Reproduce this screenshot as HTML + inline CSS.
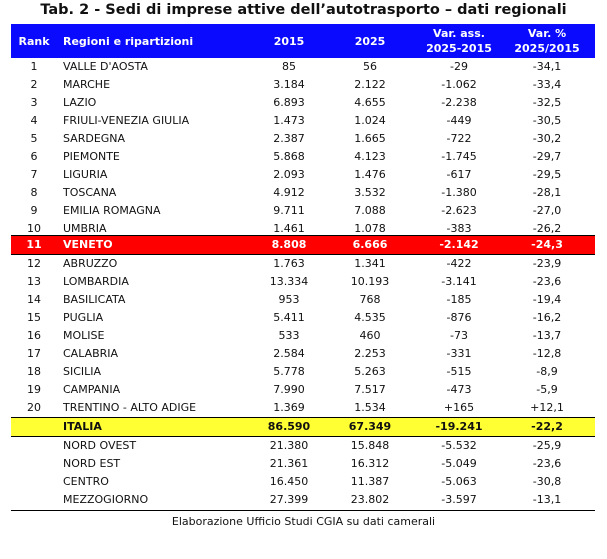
<!DOCTYPE html>
<html><head><meta charset="utf-8"><style>
body{margin:0;background:#fff;width:607px;height:559px;position:relative;font-family:"DejaVu Sans","Liberation Sans",sans-serif;font-size:11px;color:#111;overflow:hidden}
.t{position:absolute;left:0;width:607px;text-align:center;top:0;font-weight:bold;font-size:14.5px;line-height:20px}
.hd{position:absolute;left:11px;width:584px;top:24px;height:34px;background:#0a0aff;color:#fff;font-weight:bold}
.r{position:absolute;left:11px;width:584px;height:18px;line-height:18px}
.c{position:absolute;text-align:center;white-space:nowrap}
.a{left:0;width:46px}.b{left:52px;text-align:left}.d{left:227px;width:102px}.e{left:308px;width:102px}.f{left:397px;width:102px}.g{left:485px;width:102px}
.hd .c{line-height:15px}
.red{background:#ff0000;color:#fff;font-weight:bold;border-top:1px solid #000;border-bottom:1px solid #000}
.yel{background:#ffff33;font-weight:bold;border-top:1px solid #000;border-bottom:1px solid #000}
.line{position:absolute;left:11px;width:584px;height:1px;background:#000}
.cap{position:absolute;top:515px;left:0;width:607px;text-align:center}
</style></head><body>
<div class="t">Tab. 2 - Sedi di imprese attive dell’autotrasporto – dati regionali</div>
<div class="hd">
<div class="c a" style="top:10px">Rank</div>
<div class="c b" style="top:10px">Regioni e ripartizioni</div>
<div class="c d" style="top:10px">2015</div>
<div class="c e" style="top:10px">2025</div>
<div class="c f" style="top:2px">Var. ass.<br>2025-2015</div>
<div class="c g" style="top:2px">Var. %<br>2025/2015</div>
</div>
<div class="r" style="top:58px"><div class="c a">1</div><div class="c b">VALLE D'AOSTA</div><div class="c d">85</div><div class="c e">56</div><div class="c f">-29</div><div class="c g">-34,1</div></div>
<div class="r" style="top:76px"><div class="c a">2</div><div class="c b">MARCHE</div><div class="c d">3.184</div><div class="c e">2.122</div><div class="c f">-1.062</div><div class="c g">-33,4</div></div>
<div class="r" style="top:94px"><div class="c a">3</div><div class="c b">LAZIO</div><div class="c d">6.893</div><div class="c e">4.655</div><div class="c f">-2.238</div><div class="c g">-32,5</div></div>
<div class="r" style="top:112px"><div class="c a">4</div><div class="c b">FRIULI-VENEZIA GIULIA</div><div class="c d">1.473</div><div class="c e">1.024</div><div class="c f">-449</div><div class="c g">-30,5</div></div>
<div class="r" style="top:130px"><div class="c a">5</div><div class="c b">SARDEGNA</div><div class="c d">2.387</div><div class="c e">1.665</div><div class="c f">-722</div><div class="c g">-30,2</div></div>
<div class="r" style="top:148px"><div class="c a">6</div><div class="c b">PIEMONTE</div><div class="c d">5.868</div><div class="c e">4.123</div><div class="c f">-1.745</div><div class="c g">-29,7</div></div>
<div class="r" style="top:166px"><div class="c a">7</div><div class="c b">LIGURIA</div><div class="c d">2.093</div><div class="c e">1.476</div><div class="c f">-617</div><div class="c g">-29,5</div></div>
<div class="r" style="top:184px"><div class="c a">8</div><div class="c b">TOSCANA</div><div class="c d">4.912</div><div class="c e">3.532</div><div class="c f">-1.380</div><div class="c g">-28,1</div></div>
<div class="r" style="top:202px"><div class="c a">9</div><div class="c b">EMILIA ROMAGNA</div><div class="c d">9.711</div><div class="c e">7.088</div><div class="c f">-2.623</div><div class="c g">-27,0</div></div>
<div class="r" style="top:220px"><div class="c a">10</div><div class="c b">UMBRIA</div><div class="c d">1.461</div><div class="c e">1.078</div><div class="c f">-383</div><div class="c g">-26,2</div></div>
<div class="r red" style="top:235px"><div class="c a">11</div><div class="c b">VENETO</div><div class="c d">8.808</div><div class="c e">6.666</div><div class="c f">-2.142</div><div class="c g">-24,3</div></div>
<div class="r" style="top:255px"><div class="c a">12</div><div class="c b">ABRUZZO</div><div class="c d">1.763</div><div class="c e">1.341</div><div class="c f">-422</div><div class="c g">-23,9</div></div>
<div class="r" style="top:273px"><div class="c a">13</div><div class="c b">LOMBARDIA</div><div class="c d">13.334</div><div class="c e">10.193</div><div class="c f">-3.141</div><div class="c g">-23,6</div></div>
<div class="r" style="top:291px"><div class="c a">14</div><div class="c b">BASILICATA</div><div class="c d">953</div><div class="c e">768</div><div class="c f">-185</div><div class="c g">-19,4</div></div>
<div class="r" style="top:309px"><div class="c a">15</div><div class="c b">PUGLIA</div><div class="c d">5.411</div><div class="c e">4.535</div><div class="c f">-876</div><div class="c g">-16,2</div></div>
<div class="r" style="top:327px"><div class="c a">16</div><div class="c b">MOLISE</div><div class="c d">533</div><div class="c e">460</div><div class="c f">-73</div><div class="c g">-13,7</div></div>
<div class="r" style="top:345px"><div class="c a">17</div><div class="c b">CALABRIA</div><div class="c d">2.584</div><div class="c e">2.253</div><div class="c f">-331</div><div class="c g">-12,8</div></div>
<div class="r" style="top:363px"><div class="c a">18</div><div class="c b">SICILIA</div><div class="c d">5.778</div><div class="c e">5.263</div><div class="c f">-515</div><div class="c g">-8,9</div></div>
<div class="r" style="top:381px"><div class="c a">19</div><div class="c b">CAMPANIA</div><div class="c d">7.990</div><div class="c e">7.517</div><div class="c f">-473</div><div class="c g">-5,9</div></div>
<div class="r" style="top:399px"><div class="c a">20</div><div class="c b">TRENTINO - ALTO ADIGE</div><div class="c d">1.369</div><div class="c e">1.534</div><div class="c f">+165</div><div class="c g">+12,1</div></div>
<div class="r yel" style="top:417px"><div class="c b">ITALIA</div><div class="c d">86.590</div><div class="c e">67.349</div><div class="c f">-19.241</div><div class="c g">-22,2</div></div>
<div class="r" style="top:437px"><div class="c b">NORD OVEST</div><div class="c d">21.380</div><div class="c e">15.848</div><div class="c f">-5.532</div><div class="c g">-25,9</div></div>
<div class="r" style="top:455px"><div class="c b">NORD EST</div><div class="c d">21.361</div><div class="c e">16.312</div><div class="c f">-5.049</div><div class="c g">-23,6</div></div>
<div class="r" style="top:473px"><div class="c b">CENTRO</div><div class="c d">16.450</div><div class="c e">11.387</div><div class="c f">-5.063</div><div class="c g">-30,8</div></div>
<div class="r" style="top:491px"><div class="c b">MEZZOGIORNO</div><div class="c d">27.399</div><div class="c e">23.802</div><div class="c f">-3.597</div><div class="c g">-13,1</div></div>
<div class="line" style="top:510px"></div>
<div class="cap">Elaborazione Ufficio Studi CGIA su dati camerali</div>
</body></html>
